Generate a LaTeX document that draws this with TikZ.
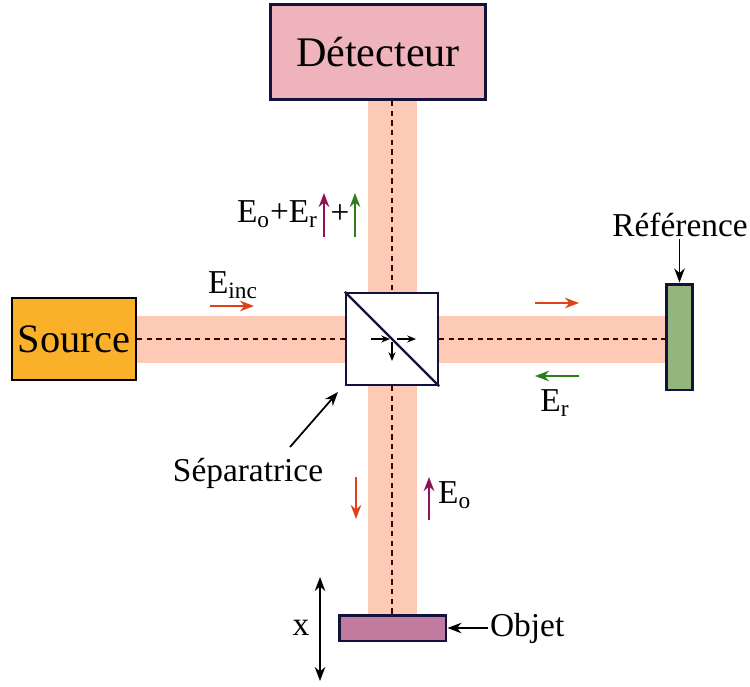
\documentclass[tikz,border=0pt]{standalone}
\usepackage{fontspec}
\setmainfont{Liberation Serif}
\usetikzlibrary{arrows.meta}

\definecolor{beamcol}{HTML}{FDCAB5}
\definecolor{srccol}{HTML}{FBB02A}
\definecolor{detcol}{HTML}{EFB3BC}
\definecolor{refcol}{HTML}{93B57E}
\definecolor{objcol}{HTML}{C27A9E}
\definecolor{navy}{HTML}{12123C}
\definecolor{incred}{HTML}{E0401A}
\definecolor{objpurple}{HTML}{8E1257}
\definecolor{refgreen}{HTML}{2E7D1A}

\tikzset{
  box/.style={draw=navy, line width=1.7pt, inner sep=0pt},
  beam/.style={fill=beamcol, draw=none},
  axis/.style={dash pattern=on 3pt off 2.5pt, line width=0.9pt, black!75!red},
  field/.style={-{Stealth[length=8pt,width=6pt]}, line width=1.3pt},
  pointer/.style={-{Stealth[length=8pt,width=6pt]}, line width=1pt},
  lbl/.style={font=\fontsize{19}{21}\selectfont, inner sep=1pt}
}

\begin{document}
\begin{tikzpicture}[x=0.02cm, y=-0.02cm]
  \useasboundingbox (0,0) rectangle (750,686);

  % light beams
  \fill[beam] (135,316) rectangle (668,363);
  \fill[beam] (368,100) rectangle (417,615);

  % elements
  \node[draw=black, line width=1.1pt, fill=srccol, minimum width=2.44cm, minimum height=1.64cm,
        font=\fontsize{23}{25}\selectfont] (source) at (74,339) {Source};
  \node[box, fill=detcol, minimum width=4.32cm, minimum height=1.9cm,
        font=\fontsize{24}{26}\selectfont] (detector) at (378,52) {Détecteur};
  \node[box, fill=refcol, minimum width=0.52cm, minimum height=2.12cm] (reference) at (679.5,337) {};
  \node[box, fill=objcol, minimum width=2.14cm, minimum height=0.52cm] (objet) at (392.5,628) {};
  \node[box, fill=white, minimum size=1.84cm, line width=1.3pt] (bs) at (392,339) {};

  % optical axes
  \draw[axis] (source.east) -- (bs.west);
  \draw[axis] (bs.east) -- (bs.east -| reference.west);
  \draw[axis] (bs.north |- detector.south) -- (bs.north);
  \draw[axis] (bs.south) -- (bs.south |- objet.north);
  \draw[navy, line width=1.3pt] (bs.north west) -- (bs.south east);

  % split arrows inside the cube
  \draw[-{Stealth[length=5pt,width=4pt]}, line width=0.7pt] (371,339) -- (390,339);
  \draw[-{Stealth[length=5pt,width=4pt]}, line width=0.7pt] (397,339) -- (416,339);
  \draw[-{Stealth[length=5pt,width=4pt]}, line width=0.7pt] (392,342) -- (392,361);

  % fields
  \draw[field, incred] (210,306) -- (254,306);
  \node[lbl] (einc) at (233,285) {E\textsubscript{inc}};
  \draw[field, incred] (535,303) -- (579,303);
  \draw[field, refgreen] (579,376) -- (535,376);
  \node[lbl] (er) at (555,403) {E\textsubscript{r}};
  \draw[field, incred] (356,477) -- (356,519);
  \draw[field, objpurple] (429,520) -- (429,477);
  \node[lbl, anchor=west] (eo) at (436,495) {E\textsubscript{o}};

  \node[lbl, anchor=east] (esum) at (320,214) {E\textsubscript{o}+E\textsubscript{r}};
  \draw[field, objpurple] (324,237) -- (324,193);
  \node[lbl] (plus) at (340,214) {+};
  \draw[field, refgreen] (355,237) -- (355,193);

  % labels
  \node[lbl] (reflbl) at (680,225) {Référence};
  \draw[pointer] (reflbl.south -| reference.north) -- (reference.north);
  \node[lbl] (bslbl) at (248,473) {Séparatrice};
  \coordinate (bstail) at (290,447);
  \draw[pointer] (bstail) -- (338,392);
  \node[lbl, anchor=west] (objlbl) at (488,628) {Objet};
  \draw[pointer] (objlbl.west) -- (objet.east);

  % displacement
  \draw[{Stealth[length=8pt,width=6pt]}-{Stealth[length=8pt,width=6pt]}, line width=1pt] (320,577) -- (320,681);
  \node[lbl] (xlbl) at (301,628) {x};
\end{tikzpicture}
\end{document}
